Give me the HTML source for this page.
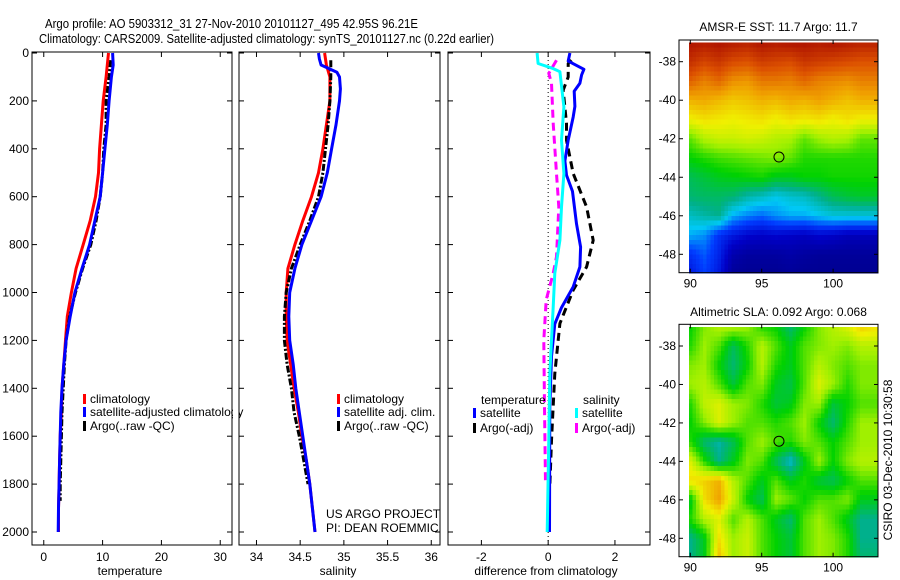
<!DOCTYPE html>
<html><head><meta charset="utf-8"><style>
body{margin:0;background:#fff;}
svg{display:block;font-family:"Liberation Sans",sans-serif;}
</style></head><body>
<svg id="fig" width="900" height="580" viewBox="0 0 900 580" xmlns="http://www.w3.org/2000/svg">
<rect width="900" height="580" fill="#fff"/>
<text x="45" y="28" font-size="13" textLength="373" lengthAdjust="spacingAndGlyphs">Argo profile: AO 5903312_31 27-Nov-2010 20101127_495 42.95S 96.21E</text>
<text x="39" y="43" font-size="13" textLength="455" lengthAdjust="spacingAndGlyphs">Climatology: CARS2009. Satellite-adjusted climatology: synTS_20101127.nc (0.22d earlier)</text>
<g id="plots"></g>
</svg>
<script>
// ---------- profile data ----------
const depths = [0,50,100,200,300,400,500,600,700,800,900,1000,1100,1200,1300,1400,1500,1600,1700,1800,1900,2000];
const tempClim = [11.0,10.8,10.6,10.1,9.8,9.5,9.3,8.8,7.9,6.7,5.5,4.7,4.0,3.7,3.4,3.1,3.0,2.8,2.7,2.6,2.5,2.5];
const tempSat  = [11.7,11.8,11.5,11.1,10.8,10.4,10.0,9.6,8.7,7.8,6.5,5.3,4.5,3.8,3.4,3.1,2.9,2.8,2.7,2.6,2.5,2.45];
const argoDepths = [30,50,100,200,300,400,500,600,700,800,900,1000,1100,1200,1300,1400,1500,1600,1700,1800,1870];
const tempArgo = [11.4,11.3,11.1,10.6,10.6,10.2,10.0,9.6,8.9,8.0,6.6,5.4,4.4,3.8,3.5,3.3,3.1,3.0,2.9,2.8,2.8];
const salClim = [34.78,34.80,34.84,34.84,34.80,34.76,34.71,34.63,34.53,34.44,34.36,34.34,34.34,34.35,34.39,34.43,34.48,34.52,34.57,34.61,34.64,34.67];
const salSatDepths = [0,25,50,80,100,150,200,300,400,500,600,700,800,900,1000,1100,1200,1300,1400,1500,1600,1700,1800,1900,2000];
const salSat = [34.71,34.72,34.74,34.92,34.95,34.96,34.95,34.91,34.86,34.81,34.74,34.63,34.52,34.44,34.38,34.37,34.38,34.42,34.45,34.49,34.53,34.57,34.61,34.64,34.67];
const salArgoDepths = [30,100,200,300,400,500,600,700,800,900,1000,1100,1200,1300,1400,1500,1600,1700,1800];
const salArgo = [34.85,34.85,34.84,34.82,34.79,34.76,34.71,34.61,34.50,34.40,34.34,34.32,34.32,34.35,34.40,34.43,34.49,34.54,34.59];
// difference panel
const dTSatDepths = [0,34,68,92,126,160,223,267,364,451,510,578,713,810,893,976,1063,1131,1267,1476,2000];
const dTSat = [0.65,0.6,1.07,1.0,0.95,0.78,0.8,0.75,0.6,0.5,0.55,0.73,0.85,0.97,0.95,0.75,0.4,0.2,0.1,0.05,0.04];
const dTArgoDepths = [30,44,100,155,294,364,503,643,782,893,990,1129,1339,1617,1811];
const dTArgo = [0.7,0.6,0.6,0.45,0.55,0.55,0.75,1.15,1.35,1.15,0.75,0.35,0.2,0.1,0.05];
const dSSatDepths = [0,44,65,78,225,364,503,643,782,920,1060,1199,1339,1617,2000];
const dSSat = [-0.33,-0.3,0.15,0.35,0.47,0.4,0.47,0.4,0.35,0.2,0.15,0.1,0.05,0.02,-0.03];
const dSArgoDepths = [30,85,127,294,503,643,851,920,1031,1199,1476,1796];
const dSArgo = [0.25,0.02,0.1,0.15,0.25,0.32,0.25,0.15,-0.06,-0.13,-0.11,-0.08];
const depthTicks = [0,200,400,600,800,1000,1200,1400,1600,1800,2000];
const tempTicks = [0,10,20,30];
const salTicks = [34,34.5,35,35.5,36];
const salTickLabels = ["34","34.5","35","35.5","36"];
const diffTicks = [-2,0,2];
// ---------- map data (1 deg grid nodes, rows lat -37..-49, cols lon 90..103) ----------
const mapLons = [90,91,92,93,94,95,96,97,98,99,100,101,102,103];
const mapLats = [-37,-38,-39,-40,-41,-42,-43,-44,-45,-46,-47,-48,-49];
const sstGrid = [
[.97,.96,.97,.96,.95,.97,.96,.97,.97,.96,.97,.96,.95,.95],
[.93,.90,.92,.89,.88,.91,.90,.89,.92,.91,.90,.89,.88,.88],
[.86,.82,.85,.80,.79,.83,.83,.82,.85,.82,.81,.80,.82,.82],
[.76,.77,.75,.73,.74,.76,.75,.77,.76,.78,.76,.74,.76,.76],
[.68,.70,.69,.68,.69,.70,.68,.70,.69,.70,.68,.70,.68,.68],
[.56,.62,.64,.64,.65,.64,.62,.61,.56,.60,.62,.61,.56,.56],
[.50,.52,.54,.55,.56,.57,.58,.56,.52,.52,.52,.52,.52,.52],
[.44,.46,.48,.49,.50,.51,.48,.48,.50,.50,.51,.51,.51,.51],
[.42,.43,.43,.42,.38,.36,.33,.35,.36,.40,.44,.46,.47,.47],
[.36,.38,.40,.30,.27,.25,.28,.30,.30,.32,.34,.34,.34,.34],
[.30,.28,.20,.16,.13,.12,.13,.12,.11,.13,.12,.10,.10,.10],
[.20,.24,.18,.08,.06,.06,.06,.07,.06,.05,.05,.05,.05,.05],
[.16,.22,.16,.05,.04,.04,.04,.05,.04,.04,.04,.04,.04,.04]];
const slaGrid = [
[.50,.58,.62,.62,.60,.52,.50,.42,.50,.58,.62,.66,.72,.70],
[.52,.60,.55,.44,.52,.62,.55,.48,.55,.58,.60,.58,.62,.62],
[.58,.60,.50,.42,.50,.62,.52,.48,.55,.62,.58,.55,.58,.58],
[.60,.62,.55,.46,.55,.58,.48,.45,.55,.66,.60,.52,.58,.58],
[.52,.63,.66,.60,.58,.52,.46,.48,.58,.60,.46,.50,.55,.55],
[.50,.58,.66,.60,.55,.55,.52,.55,.60,.50,.42,.52,.60,.60],
[.52,.42,.38,.44,.55,.60,.55,.52,.58,.55,.50,.55,.60,.60],
[.66,.52,.40,.48,.58,.55,.44,.35,.48,.60,.50,.58,.62,.62],
[.70,.72,.76,.62,.55,.48,.55,.48,.52,.46,.44,.50,.55,.55],
[.48,.70,.78,.64,.50,.44,.60,.56,.50,.55,.55,.58,.48,.48],
[.52,.62,.66,.55,.62,.55,.48,.42,.55,.60,.55,.48,.40,.40],
[.40,.48,.70,.60,.64,.55,.50,.46,.55,.60,.58,.52,.40,.40],
[.40,.48,.74,.60,.64,.55,.50,.46,.55,.60,.58,.52,.42,.42]];
const mapLonTicks = [90,95,100];
const mapLatTicks = [-38,-40,-42,-44,-46,-48];
const argoLon = 96.21, argoLat = -42.95;

const NS="http://www.w3.org/2000/svg";
const root=document.getElementById('plots');
function el(tag,attrs,parent){const e=document.createElementNS(NS,tag);for(const k in attrs)e.setAttribute(k,attrs[k]);(parent||root).appendChild(e);return e;}
function txt(s,attrs,parent){const e=el('text',attrs,parent);e.textContent=s;return e;}

const Y0=53, YS=0.2395; // depth axis
const yD=d=>Y0+d*YS;
function lin(d0,d1,p0,p1){return v=>p0+(v-d0)*(p1-p0)/(d1-d0);}

function frame(name,x0,x1,y0,y1){
  const r=el('rect',{x:x0,y:y0,width:x1-x0,height:y1-y0,fill:'none',stroke:'#000','stroke-width':1});
  
  
}
function line(name,xs,ds,xf,color,w,dash){
  const pts=xs.map((v,i)=>xf(v).toFixed(1)+','+yD(ds[i]).toFixed(1)).join(' ');
  const p=el('polyline',{points:pts,fill:'none',stroke:color,'stroke-width':w,'stroke-linejoin':'round'});
  if(dash)p.setAttribute('stroke-dasharray',dash);
  
  
}
function xticks(name,ticks,labels,xf,y0,y1){
  const g=el('g',{});
  
  
  ticks.forEach((t,i)=>{const x=xf(t);
    el('line',{x1:x,x2:x,y1:y1,y2:y1-5,stroke:'#000'},g);
    el('line',{x1:x,x2:x,y1:y0,y2:y0+5,stroke:'#000'},g);
    txt(labels[i],{x:x,y:y1+16,'font-size':12,'text-anchor':'middle'},g);});
}
function dticks(x0,x1,labels){
  const g=el('g',{});
  
  
  depthTicks.forEach(d=>{const y=yD(d);
    el('line',{x1:x0,x2:x0+5,y1:y,y2:y,stroke:'#000'},g);
    el('line',{x1:x1,x2:x1-5,y1:y,y2:y,stroke:'#000'},g);
    if(labels)txt(String(d),{x:x0-3,y:y+4,'font-size':12,'text-anchor':'end'},g);});
}
function legendEntry(name,x,y,color,label){
  const g=el('g',{});
  
  
  el('rect',{x:x,y:y-9,width:3,height:10,fill:color},g);
  txt(label,{x:x+7,y:y,'font-size':12},g);
}
const YT=52, YB=545;
// Panel 1 temperature
const xT=lin(-2,32,32,232);
frame('temperature-axes',32,232,YT,YB);
dticks(32,232,true);
xticks('temperature-x-ticks',tempTicks,tempTicks.map(String),xT,YT,YB);
line('temp-climatology',tempClim,depths,xT,'#f00',3);
line('temp-argo',tempArgo,argoDepths,xT,'#000',3,'7,2,2,2');
line('temp-satellite',tempSat,depths,xT,'#00f',3);
txt('temperature',{x:130,y:575,'font-size':12,'text-anchor':'middle',});
legendEntry('legend-climatology',83,403,'#f00','climatology');
legendEntry('legend-satellite-adjusted',83,416,'#00f','satellite-adjusted climatology');
legendEntry('legend-argo',83,430,'#000','Argo(..raw -QC)');
el('rect',{x:233,y:404,width:5.5,height:15,fill:'#fff'});
// Panel 2 salinity
const xS=lin(33.8,36.1,239,440);
frame('salinity-axes',239,440,YT,YB);
dticks(239,440,false);
xticks('salinity-x-ticks',salTicks,salTickLabels,xS,YT,YB);
line('sal-climatology',salClim,depths,xS,'#f00',3);
line('sal-argo',salArgo,salArgoDepths,xS,'#000',3,'7,2,2,2');
line('sal-satellite',salSat,salSatDepths,xS,'#00f',3);
txt('salinity',{x:338,y:575,'font-size':12,'text-anchor':'middle',});
legendEntry('legend-sal-climatology',337,403,'#f00','climatology');
legendEntry('legend-sal-satellite',337,416,'#00f','satellite adj. clim.');
legendEntry('legend-sal-argo',337,430,'#000','Argo(..raw -QC)');
txt('US ARGO PROJECT',{x:326,y:518,'font-size':12,});
txt('PI: DEAN ROEMMICH',{x:326,y:532,'font-size':12,});
el('rect',{x:440.5,y:505,width:7,height:30,fill:'#fff'});
frame('salinity-axes-edge',239,440,YT,YB);
// Panel 3 differences
const xD=lin(-3,3.05,448,650);
frame('difference-axes',448,650,YT,YB);
dticks(448,650,false);
xticks('difference-x-ticks',diffTicks,diffTicks.map(String),xD,YT,YB);
el('line',{x1:xD(0),x2:xD(0),y1:YT,y2:YB,stroke:'#000','stroke-dasharray':'1,3',});
line('diff-temp-argo',dTArgo,dTArgoDepths,xD,'#000',3,'8,5');
line('diff-sal-argo',dSArgo,dSArgoDepths,xD,'#f0f',3,'8,5');
line('diff-temp-satellite',dTSat,dTSatDepths,xD,'#00f',3);
line('diff-sal-satellite',dSSat,dSSatDepths,xD,'#0ff',3);
txt('difference from climatology',{x:546,y:575,'font-size':12,'text-anchor':'middle',});
txt('temperature',{x:481,y:404,'font-size':12,});
legendEntry('legend-temp-satellite',473,417,'#00f','satellite');
legendEntry('legend-temp-argo',473,432,'#000','Argo(-adj)');
txt('salinity',{x:583,y:404,'font-size':12,});
legendEntry('legend-sal-sat-diff',575,417,'#0ff','satellite');
legendEntry('legend-sal-argo-diff',575,432,'#f0f','Argo(-adj)');

// ---------- maps ----------
const cmStops=[[0,[0,0,120]],[0.12,[0,0,200]],[0.22,[0,60,255]],[0.32,[0,200,245]],[0.40,[0,176,140]],[0.5,[0,210,0]],[0.6,[160,240,0]],[0.68,[240,240,0]],[0.78,[240,160,0]],[0.88,[220,80,0]],[1,[160,0,0]]];
function cmap(v){v=Math.max(0,Math.min(1,v));
  for(let i=1;i<cmStops.length;i++){if(v<=cmStops[i][0]){const a=cmStops[i-1],b=cmStops[i],t=(v-a[0])/(b[0]-a[0]);
    return 'rgb('+a[1].map((c,k)=>Math.round(c+(b[1][k]-c)*t)).join(',')+')';}}
  return 'rgb(160,0,0)';}
function sample(grid,lon,lat){
  const fj=Math.max(0,Math.min(mapLons.length-1.001,lon-mapLons[0]));
  const fi=Math.max(0,Math.min(mapLats.length-1.001,mapLats[0]-lat));
  const j=Math.floor(fj),i=Math.floor(fi),tj=fj-j,ti=fi-i;
  return grid[i][j]*(1-tj)*(1-ti)+grid[i][j+1]*tj*(1-ti)+grid[i+1][j]*(1-tj)*ti+grid[i+1][j+1]*tj*ti;}
function drawMap(name,grid,fx0,fx1,fy0,fy1,lat38,lat48,title,titleY){
  const xL=lin(90,95,690.3,761.7);
  const yL=lin(-38,-48,lat38,lat48);
  const g=el('g',{'shape-rendering':'crispEdges'});
  
  
  const step=0.25;
  for(let lat=-37;lat>-49.2;lat-=step){for(let lon=89.9;lon<103.2;lon+=step){
    const x0=Math.max(689,xL(lon)), x1=Math.min(fx1,xL(lon+step));
    const y0=Math.max(fy0,yL(lat)), y1=Math.min(fy1,yL(lat-step));
    if(x1<=x0||y1<=y0)continue;
    const c=el('rect',{x:x0.toFixed(1),y:y0.toFixed(1),width:(x1-x0+0.6).toFixed(1),height:(y1-y0+0.6).toFixed(1),fill:cmap(sample(grid,lon+step/2,lat-step/2))},g);
    
    
  }}
  frame(name+'-frame',fx0,fx1,fy0,fy1);
  const t=el('g',{});
  
  
  mapLonTicks.forEach(l=>{const x=xL(l);
    el('line',{x1:x,x2:x,y1:fy1,y2:fy1-4,stroke:'#000'},t);
    el('line',{x1:x,x2:x,y1:fy0,y2:fy0+4,stroke:'#000'},t);
    txt(String(l),{x:x,y:fy1+15,'font-size':12,'text-anchor':'middle'},t);});
  mapLatTicks.forEach(l=>{const y=yL(l);
    el('line',{x1:fx0,x2:fx0+4,y1:y,y2:y,stroke:'#000'},t);
    el('line',{x1:fx1,x2:fx1-4,y1:y,y2:y,stroke:'#000'},t);
    txt(String(l),{x:fx0-3,y:y+4,'font-size':12,'text-anchor':'end'},t);});
  const c=el('circle',{cx:xL(argoLon),cy:yL(argoLat),r:5,fill:'none',stroke:'#000','stroke-width':1});
  
  
  txt(title,{x:(fx0+fx1)/2,y:titleY,'font-size':12,'text-anchor':'middle',});
}
drawMap('sst-map',sstGrid,679,878,40,272.7,61.7,254.3,'AMSR-E SST: 11.7 Argo: 11.7',31);
drawMap('sla-map',slaGrid,679,878,324.3,556.7,346,538.3,'Altimetric SLA: 0.092 Argo: 0.068',316);
txt('CSIRO 03-Dec-2010 10:30:58',{x:0,y:0,'font-size':12,'text-anchor':'middle',transform:'translate(892,460) rotate(-90)',});
</script>
</body></html>
